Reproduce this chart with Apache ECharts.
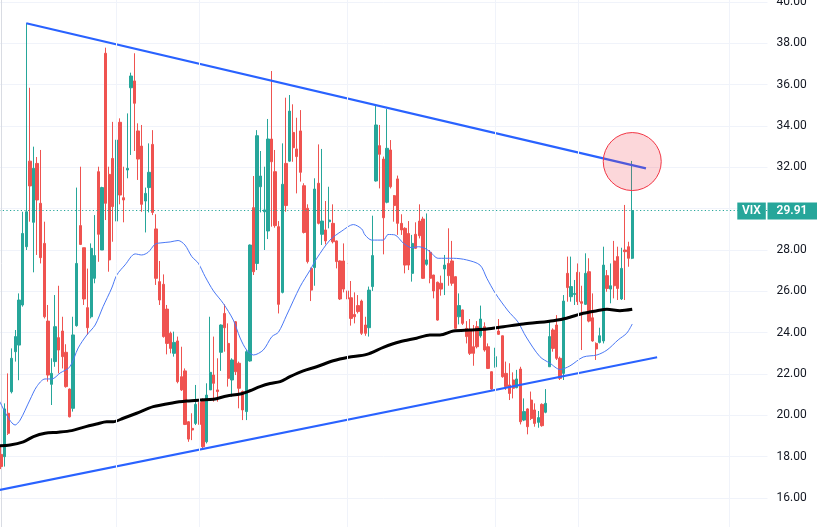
<!DOCTYPE html>
<html><head><meta charset="utf-8">
<script src="https://cdn.jsdelivr.net/npm/echarts@6/dist/echarts.min.js"></script>
<style>html,body{margin:0;padding:0;background:#fff}#c{width:817px;height:527px}</style>
</head><body><div id="c"></div>
<script>
// ---- data ----
const startDay = '2022-01-12';
const holidays = ['2022-01-17','2022-02-21','2022-04-15','2022-05-30','2022-06-20','2022-07-04','2022-09-05'];
const slotCount = 213;
const monthLines = ['2022-03-01','2022-04-01','2022-06-01','2022-08-01','2022-09-01','2022-11-01'];
const tickerName = 'VIX';
const lastPrice = 29.91;

const opens = [18.11,18.00,20.10,21.14,23.08,23.40,25.34,28.16,32.30,29.34,32.19,30.26,28.32,24.56,21.50,22.60,23.76,24.08,23.05,21.27,
20.34,24.34,29.18,28.11,25.21,24.77,26.63,31.79,28.00,37.52,31.66,32.43,29.40,34.18,30.53,31.87,35.85,36.18,33.76,33.03,
30.37,31.02,33.11,29.02,26.47,26.34,25.14,23.97,23.00,23.60,21.87,22.15,19.69,19.37,19.61,20.63,20.74,18.72,21.23,21.95,
21.23,23.05,24.93,23.48,21.71,24.53,22.52,21.15,20.18,22.63,30.05,27.35,31.06,29.85,28.92,33.37,31.79,29.13,25.95,32.19,
32.30,33.69,32.89,33.76,31.11,30.02,27.11,27.15,31.23,28.76,28.97,29.37,29.29,28.44,27.47,27.47,26.02,25.69,24.88,25.31,
25.53,24.37,24.24,26.23,31.34,33.05,32.40,30.31,32.84,30.63,31.44,29.29,29.05,28.80,26.87,28.76,29.40,29.50,27.31,27.89,
26.79,26.44,26.39,27.08,27.35,27.47,26.71,24.77,25.10,24.21,24.13,23.32,24.29,23.85,24.29,23.32,22.11,22.35,24.08,23.85,
22.03,21.47,21.71,21.34,22.24,19.77,20.31,20.74,20.26,19.66,20.53,20.15,22.35,24.13,24.37,22.76,22.03,26.87,25.74,25.85,
26.92,25.50,25.37,26.95,24.72,23.48,23.53,23.60,26.76,26.11,27.47,27.68,25.63,28.00,28.16,27.60];
const closes = [17.52,20.31,19.13,22.76,23.81,25.58,28.80,29.85,31.10,31.95,30.42,27.63,24.77,21.95,22.03,24.29,23.16,22.84,21.39,19.93,
23.89,27.35,28.27,25.63,24.24,28.08,27.73,28.76,31.02,30.26,27.52,30.10,33.32,30.66,30.42,31.95,36.42,35.10,32.40,30.21,
30.74,31.76,29.82,26.63,25.58,23.81,23.48,23.24,23.53,21.63,21.23,19.56,18.85,19.29,20.53,19.56,18.48,20.98,22.08,21.55,
21.15,24.37,24.24,21.79,22.68,22.11,21.31,20.26,23.08,28.24,26.95,33.53,31.58,29.94,33.37,32.27,29.18,25.37,31.18,30.15,
34.72,32.95,32.52,31.76,28.85,27.44,26.06,30.95,29.29,29.40,28.44,29.45,28.40,27.44,25.63,26.11,25.63,24.69,24.77,25.02,
23.97,23.97,26.06,27.73,34.05,32.63,29.56,32.92,31.06,30.15,29.29,28.97,27.27,27.27,28.32,28.08,28.69,26.63,27.52,26.63,
26.02,24.61,26.11,27.27,26.76,26.39,24.21,25.31,24.45,23.81,23.00,23.00,23.32,24.66,23.16,22.27,21.27,22.84,23.92,21.87,
21.39,21.06,21.31,21.76,19.69,20.18,19.45,19.85,19.61,19.89,19.50,20.58,23.81,23.24,22.76,21.79,25.53,26.18,26.23,25.90,
25.50,25.42,26.87,24.56,23.60,23.21,23.85,27.27,26.14,26.27,26.27,26.14,27.11,27.92,27.60,29.91];
const lows = [17.40,17.52,19.05,21.06,22.60,21.70,25.26,28.00,29.37,26.92,27.76,27.35,24.69,21.63,20.50,22.35,22.03,22.27,21.34,19.90,
20.18,24.29,28.24,25.34,23.90,24.69,26.39,27.43,28.00,29.45,26.95,28.40,29.40,30.21,29.34,31.47,32.60,32.79,31.39,29.85,
28.85,29.82,29.69,26.31,25.34,23.76,22.95,23.00,22.84,21.55,21.18,19.53,18.72,18.80,19.53,19.37,18.40,18.64,21.23,20.66,
20.66,22.15,23.08,21.39,20.90,21.95,20.34,19.77,19.77,22.60,26.79,27.03,29.82,28.00,28.53,29.13,29.08,24.93,25.90,29.85,
32.27,32.27,30.74,31.31,28.80,27.35,25.53,26.27,29.24,28.24,28.27,29.05,28.32,27.11,25.58,25.95,25.31,24.34,24.45,24.93,
23.89,23.85,23.81,26.02,31.31,30.98,27.79,30.26,30.98,29.37,28.73,28.73,26.87,27.03,26.47,28.05,28.56,26.60,27.24,26.39,
25.66,24.58,25.79,25.82,26.27,26.27,24.18,24.40,24.37,23.48,22.92,22.40,23.24,23.76,23.08,22.24,21.18,22.31,23.89,21.82,
21.23,20.74,20.82,21.31,19.56,19.72,19.08,19.77,19.45,19.40,19.45,20.10,22.35,23.08,22.68,21.71,21.71,25.50,25.50,25.34,
25.34,23.16,25.34,24.50,23.56,22.68,23.48,23.48,25.98,25.42,25.66,25.58,25.58,25.58,27.19,27.56];
const highs = [18.56,20.58,22.03,23.24,24.13,25.90,29.85,38.97,35.85,33.00,32.50,32.84,29.37,25.34,22.76,25.82,26.27,24.77,23.44,21.30,
24.77,31.02,32.03,28.11,27.10,28.32,29.69,32.03,31.06,37.79,32.03,34.20,35.21,34.37,32.03,34.61,36.58,37.52,34.13,34.05,
31.02,33.16,33.80,29.73,27.47,26.82,25.34,24.05,24.05,23.81,23.32,22.27,19.72,20.10,21.47,20.82,20.82,21.55,24.77,23.81,
22.76,24.40,25.37,24.45,22.76,24.56,22.60,21.20,23.16,28.27,31.58,33.80,32.79,32.03,34.34,36.66,32.84,29.40,33.16,35.37,
35.50,35.05,34.40,34.77,31.23,30.21,27.15,31.47,33.11,32.89,30.37,31.06,30.21,28.46,27.50,28.32,27.79,26.50,25.95,25.82,
25.60,24.77,26.23,29.66,35.05,34.05,32.52,34.82,33.32,30.66,31.60,29.73,29.10,29.40,28.73,29.34,30.21,29.61,29.77,28.00,
26.80,26.47,26.76,27.76,29.05,28.44,26.72,25.90,25.12,24.56,24.66,24.37,24.56,25.31,24.50,23.48,22.12,23.27,24.66,23.86,
22.60,22.52,22.08,22.20,22.35,20.82,20.34,21.15,20.58,20.21,20.58,21.27,24.61,24.21,24.85,22.84,25.82,27.68,27.68,26.55,
27.35,26.27,27.84,27.60,25.90,23.53,24.24,28.16,27.03,27.35,28.44,28.16,28.11,30.18,28.40,32.31];

// moving averages: [bar index, value]
const maFast = [[-0.3,20.66],[3.9,19.53],[5.3,19.77],[8.0,20.74],[9.9,21.39],[12.2,21.76],[14.1,21.76],[16.4,22.05],[19.1,22.35],
[21.4,23.26],[23.8,23.89],[26.1,24.37],[28.3,25.26],[30.7,26.16],[32.1,26.79],[34.4,27.28],[37.2,27.81],[39.0,27.76],[40.8,27.89],
[42.7,28.28],[44.1,28.34],[46.9,28.39],[49.1,28.46],[51.0,28.24],[52.9,27.68],[54.7,27.36],[56.6,26.71],[58.9,26.02],[61.6,25.42],
[64.4,24.61],[66.3,23.74],[68.1,23.16],[70.0,22.92],[72.7,23.16],[75.1,23.81],[76.9,24.02],[79.2,24.85],[82.9,26.22],[85.7,27.03],
[87.6,27.61],[91.2,28.48],[94.5,28.92],[97.7,29.23],[100.0,29.02],[100.9,28.73],[102.8,28.48],[106.0,28.48],[107.3,28.75],[109.2,28.73],
[111.5,28.34],[113.9,28.11],[115.7,28.16],[117.5,28.08],[118.9,27.92],[121.2,27.60],[125.4,27.60],[129.1,27.52],[132.8,27.27],
[134.7,26.63],[137.0,25.92],[140.6,25.05],[143.3,24.52],[145.6,23.79],[149.4,22.84],[152.2,22.52],[155.0,22.22],[157.7,22.39],
[161.4,22.82],[165.2,22.92],[168.0,23.16],[171.1,23.65],[173.5,23.98],[175.0,24.42]];
const maSlow = [[-0.3,18.53],[2.5,18.56],[6.2,18.72],[9.0,18.97],[12.2,19.13],[15.9,19.18],[19.6,19.26],[22.8,19.42],[26.5,19.58],
[29.3,19.69],[31.1,19.69],[33.9,19.86],[37.6,20.10],[42.2,20.42],[47.8,20.61],[51.5,20.69],[55.2,20.74],[58.9,20.78],[62.6,20.94],
[66.3,21.03],[69.0,21.19],[71.8,21.39],[74.6,21.54],[77.4,21.63],[80.1,21.87],[83.8,22.15],[87.5,22.35],[92.1,22.64],[96.3,22.81],
[101.4,22.95],[106.0,23.29],[110.6,23.56],[115.2,23.73],[118.9,23.89],[121.7,23.89],[125.4,24.08],[130.0,24.13],[134.7,24.18],
[139.3,24.29],[144.8,24.42],[149.4,24.50],[153.1,24.58],[156.8,24.70],[161.4,24.94],[165.2,25.06],[168.0,25.13],[171.6,25.06],[175.0,25.13]];

const upperTrend = [[7.0,38.97],[178.8,31.95]];
const lowerTrend = [[-0.5,16.38],[181.9,22.81]];
const highlight = [[175,32.28]];

// ---- build ----
function tradingDays(start, n, hol){
  const out=[]; const d=new Date(start+'T00:00:00Z');
  while(out.length<n){
    const wd=d.getUTCDay(); const s=d.toISOString().slice(0,10);
    if(wd!==0 && wd!==6 && hol.indexOf(s)<0) out.push(s);
    d.setUTCDate(d.getUTCDate()+1);
  }
  return out;
}
const categories = tradingDays(startDay, slotCount, holidays);
const monthIdx = monthLines.map(s=>categories.indexOf(s)).filter(i=>i>=0);
const candles = opens.map((o,i)=>[o,closes[i],lows[i],highs[i]]);

const GL = -0.8, GW = 768.3;
const chart = echarts.init(document.getElementById('c'), null, {renderer:'canvas'});
const option = {
  animation:false,
  backgroundColor:'#ffffff',
  grid:{left:GL, width:GW, top:-39.33, height:578.67, containLabel:false, outerBoundsMode:'none'},
  xAxis:[
    {type:'category', data:categories, boundaryGap:true, show:false},
    {type:'value', min:-0.5, max:slotCount-0.5, show:false}
  ],
  yAxis:{
    type:'value', position:'right', min:14, max:42, interval:2,
    axisLine:{show:true, lineStyle:{color:'#d9dce3', width:1}},
    axisTick:{show:false},
    splitLine:{show:true, lineStyle:{color:'#f0f3fa', width:1}},
    axisLabel:{margin:9, color:'#131722', fontSize:12, fontFamily:'Roboto, sans-serif',
      formatter:v=>v.toFixed(2)}
  },
  series:[
    {type:'line', xAxisIndex:1, data:[], z:0, silent:true,
      markLine:{silent:true, symbol:['none','none'], label:{show:false},
        lineStyle:{color:'#f0f3fa', width:1, type:'solid'},
        data:monthIdx.map(i=>({xAxis:i}))}},
    {type:'candlestick', xAxisIndex:0, data:candles, barWidth:2.8, z:2,
      itemStyle:{color:'#26a69a', color0:'#ef5350', borderColor:'#26a69a', borderColor0:'#ef5350', borderWidth:1},
      markLine:{silent:true, symbol:['none','none'], label:{show:false},
        lineStyle:{color:'#26a69a', width:1.2, type:[1.2,2.4]},
        data:[{yAxis:lastPrice}]}},
    {type:'line', xAxisIndex:1, data:maFast, showSymbol:false, smooth:0.3, z:3,
      lineStyle:{color:'#4a78f5', width:1}},
    {type:'line', xAxisIndex:1, data:maSlow, showSymbol:false, smooth:0.3, z:3,
      lineStyle:{color:'#000000', width:3}},
    {type:'line', xAxisIndex:1, data:upperTrend, showSymbol:false, z:4,
      lineStyle:{color:'#2962ff', width:2.2}},
    {type:'line', xAxisIndex:1, data:lowerTrend, showSymbol:false, z:4,
      lineStyle:{color:'#2962ff', width:2.2}},
    {type:'scatter', xAxisIndex:1, data:highlight, symbol:'circle', symbolSize:58, z:5, silent:true,
      itemStyle:{color:'rgba(242,54,69,0.2)', borderColor:'#f23645', borderWidth:1, opacity:1}}
  ]
};
chart.setOption(option);

const py = chart.convertToPixel({yAxisIndex:0}, lastPrice);
const axisX = GL + GW;
chart.setOption({graphic:[
  {type:'rect', shape:{x:axisX-30.2, y:py-8, width:28.5, height:17}, style:{fill:'#26a69a'}, z:100},
  {type:'text', x:axisX-16, y:py+0.5, style:{text:tickerName, fill:'#ffffff', font:'600 12px Roboto, sans-serif', align:'center', verticalAlign:'middle'}, z:101},
  {type:'rect', shape:{x:axisX, y:py-8, width:817-axisX, height:17}, style:{fill:'#26a69a'}, z:100},
  {type:'text', x:axisX+24.5, y:py+0.5, style:{text:lastPrice.toFixed(2), fill:'#ffffff', font:'600 12px Roboto, sans-serif', align:'center', verticalAlign:'middle'}, z:101}
]});
</script>
</body></html>
